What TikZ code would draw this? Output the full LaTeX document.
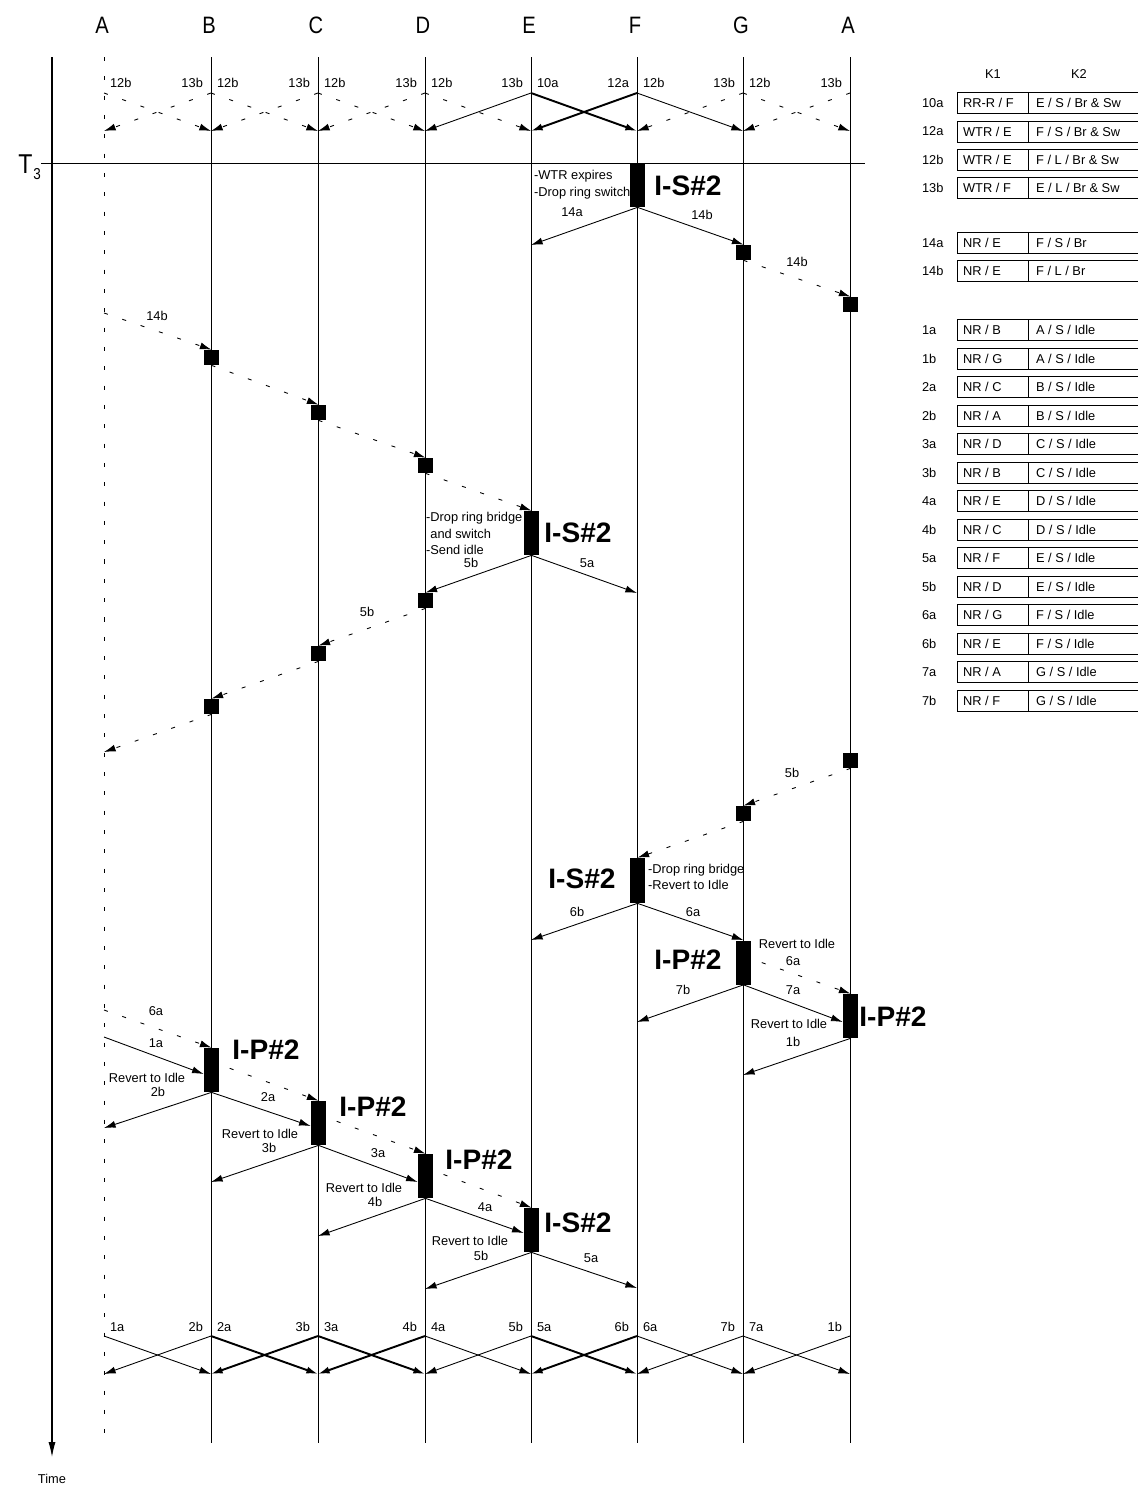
\documentclass[tikz,border=0pt]{standalone}
\usepackage{fontspec}
\setmainfont{Liberation Sans}
\newfontfamily\narrowfont[FakeStretch=0.85]{Liberation Sans}
\usetikzlibrary{arrows.meta,calc}

\begin{document}
\begin{tikzpicture}[x=0.02cm,y=-0.02cm,
  every node/.style={inner sep=1pt},
  lbl/.style={font=\fontsize{7.3}{9.4}\selectfont},
  remark/.style={lbl,align=left,anchor=west},
  lane/.style={line width=0.5pt},
  msg/.style={line width=0.5pt,-{Latex[length=6.6pt,width=4pt]}},
  bold msg/.style={msg,line width=1.1pt},
  fwd/.style={msg,dash pattern=on 2.3pt off 8.7pt},
  blk/.style={fill=black,minimum width=0.3cm,minimum height=0.88cm,inner sep=0pt},
  sq/.style={fill=black,minimum size=0.3cm,inner sep=0pt},
  stname/.style={font=\fontsize{16}{18}\selectfont\bfseries},
  letter/.style={font=\narrowfont\fontsize{13.5}{15}\selectfont}]
  \useasboundingbox (0,0) rectangle (1138,1488);

  % ring nodes (lanes)
  \foreach \n/\x/\t in {A/104/A,B/211/B,C/318/C,D/425/D,E/531/E,F/637/F,G/743/G,A2/850/A}{
    \node[letter] (l\n) at (\x-2,25) {\t};
    \coordinate (\n-top) at (\x,57);
    \coordinate (\n-bot) at (\x,1443);
    \coordinate (\n-u1) at (\x,93);    % top exchange
    \coordinate (\n-u2) at (\x,131);
    \coordinate (\n-v1) at (\x,1336);  % bottom exchange
    \coordinate (\n-v2) at (\x,1374);
  }
  \foreach \n in {B,C,D,E,F,G,A2}
    \draw[lane] (\n-top) -- (\n-bot);
  \draw[lane,dash pattern=on 2.3pt off 8.7pt] (A-top) -- (A-bot);

  % time axis and T3
  \coordinate (time-top) at (52,57);
  \coordinate (time-end) at (52,1457);
  \draw[line width=0.6pt,-{Latex[length=8.5pt,width=4pt]}] (time-top) -- (time-end);
  \node[lbl] (time) at (52,1479) {Time};
  \coordinate (t3-l) at (41,163);
  \coordinate (t3-r) at (865,163);
  \draw[lane] (t3-l) -- (t3-r);
  \node[letter,font=\narrowfont\fontsize{15.5}{17}\selectfont,anchor=base west,inner sep=0pt]
       (t3) at (18,173) {T\kern0.5pt\raisebox{-3.5pt}{\fontsize{9}{10}\selectfont 3}};

  % top exchange
  \foreach \p/\q/\sa/\sb/\la/\lb in {A/B/fwd/fwd/12b/13b, B/C/fwd/fwd/12b/13b,
      C/D/fwd/fwd/12b/13b, D/E/fwd/msg/12b/13b, E/F/bold msg/bold msg/10a/12a,
      F/G/msg/fwd/12b/13b, G/A2/fwd/fwd/12b/13b}{
    \draw[\sa] (\p-u1) -- (\q-u2);
    \draw[\sb] (\q-u1) -- (\p-u2);
    \node[lbl,anchor=west] (x\p) at ($(\p-u1)+(4,-10)$) {\la};
    \node[lbl,anchor=east] (y\q) at ($(\q-u1)+(-6,-10)$) {\lb};
  }

  % bottom exchange
  \foreach \p/\q/\sa/\sb/\la/\lb in {A/B/msg/msg/1a/2b, B/C/bold msg/bold msg/2a/3b,
      C/D/bold msg/bold msg/3a/4b, D/E/msg/msg/4a/5b, E/F/bold msg/bold msg/5a/6b,
      F/G/msg/msg/6a/7b, G/A2/msg/msg/7a/1b}{
    \draw[\sa] (\p-v1) -- (\q-v2);
    \draw[\sb] (\q-v1) -- (\p-v2);
    \node[lbl,anchor=west] (z\p) at ($(\p-v1)+(4,-9)$) {\la};
    \node[lbl,anchor=east] (w\q) at ($(\q-v1)+(-6,-9)$) {\lb};
  }

  % blocks and squares
  \node[blk] (sF1) at (637.5,185) {};
  \node[blk] (sE1) at (531.5,533) {};
  \node[blk,minimum height=0.9cm] (sF2) at (637.5,880.5) {};
  \node[blk] (pG) at (743.5,962.5) {};
  \node[blk] (pA2) at (850.5,1016) {};
  \node[blk] (pB) at (211.5,1070) {};
  \node[blk] (pC) at (318.5,1123) {};
  \node[blk] (pD) at (425.5,1176) {};
  \node[blk] (sE2) at (531.5,1230) {};
  \node[sq] (qG1) at (743.5,252.5) {};
  \node[sq] (qA1) at (850.5,304.5) {};
  \node[sq] (qB1) at (211.5,357.5) {};
  \node[sq] (qC1) at (318.5,412.5) {};
  \node[sq] (qD1) at (425.5,465.5) {};
  \node[sq] (qD2) at (425.5,600.5) {};
  \node[sq] (qC2) at (318.5,653.5) {};
  \node[sq] (qB2) at (211.5,706.5) {};
  \node[sq] (qA3) at (850.5,760.5) {};
  \node[sq] (qG2) at (743.5,813.5) {};

  % free ends on the lanes
  \coordinate (e14) at (531,245);
  \coordinate (a14) at (104,313);
  \coordinate (f5) at (637,593);
  \coordinate (a5) at (104,752);
  \coordinate (e6) at (531,940);
  \coordinate (f7) at (637,1022);
  \coordinate (g1) at (743,1075);
  \coordinate (a6) at (104,1010);
  \coordinate (a1) at (104,1037);
  \coordinate (a2) at (104,1128);
  \coordinate (b3) at (211,1182);
  \coordinate (c4) at (318,1236);
  \coordinate (d5) at (425,1289);
  \coordinate (f6) at (637,1288);

  % messages after T3
  \draw[msg] (sF1.south) -- (e14);
  \draw[msg] (sF1.south) -- (qG1.north);
  \draw[fwd] (qG1.south) -- (qA1.north);
  \draw[fwd] (a14) -- (qB1.north);
  \draw[fwd] (qB1.south) -- (qC1.north);
  \draw[fwd] (qC1.south) -- (qD1.north);
  \draw[fwd] (qD1.south) -- (sE1.north);
  \draw[msg] (sE1.south) -- (qD2.north);
  \draw[msg] (sE1.south) -- (f5);
  \draw[fwd] (qD2.south) -- (qC2.north);
  \draw[fwd] (qC2.south) -- (qB2.north);
  \draw[fwd] (qB2.south) -- (a5);
  \draw[fwd] (qA3.south) -- (qG2.north);
  \draw[fwd] (qG2.south) -- (sF2.north);
  \draw[msg] (sF2.south) -- (e6);
  \draw[msg] (sF2.south) -- (pG.north);
  \draw[fwd] ($(pG.north)+(0,16)$) -- (pA2.north);
  \draw[msg] (pG.south) -- (f7);
  \draw[msg] (pG.south) -- ($(pA2.west)+(0,6)$);
  \draw[msg] (pA2.south) -- (g1);
  \draw[fwd] (a6) -- (pB.north);
  \draw[msg] (a1) -- ($(pB.west)+(0,4)$);
  \draw[fwd] ($(pB.north)+(0,14)$) -- (pC.north);
  \draw[msg] (pB.south) -- (a2);
  \draw[msg] (pB.south) -- ($(pC.west)+(0,3)$);
  \draw[fwd] ($(pC.north)+(0,14)$) -- (pD.north);
  \draw[msg] (pC.south) -- (b3);
  \draw[msg] (pC.south) -- ($(pD.west)+(0,6)$);
  \draw[fwd] ($(pD.north)+(0,14)$) -- (sE2.north);
  \draw[msg] (pD.south) -- (c4);
  \draw[msg] (pD.south) -- ($(sE2.west)+(0,3)$);
  \draw[msg] (sE2.south) -- (d5);
  \draw[msg] (sE2.south) -- (f6);

  % state names
  \foreach \x/\y/\t [count=\i] in {688/186/I-S, 578/533/I-S, 582/879/I-S,
      688/960/I-P, 893/1017/I-P, 266/1050/I-P, 373/1107/I-P, 479/1160/I-P,
      578/1223/I-S}
    \node[stname] (st\i) at (\x,\y) {\t\#2};

  % message labels
  \foreach \x/\y/\t [count=\i] in {572/212/14a, 702/215/14b, 797/262/14b,
      157/316/14b, 471/563/5b, 587/563/5a, 367/612/5b, 792/773/5b,
      577/912/6b, 693/912/6a, 797/944/Revert to Idle, 793/961/6a,
      683/990/7b, 793/990/7a, 789/1024/Revert to Idle, 793/1042/1b,
      156/1011/6a, 156/1043/1a, 147/1078/Revert to Idle, 158/1092/2b,
      268/1097/2a, 260/1134/Revert to Idle, 269/1148/3b, 378/1153/3a,
      364/1188/Revert to Idle, 375/1202/4b, 485/1207/4a,
      470/1241/Revert to Idle, 481/1256/5b, 591/1258/5a}
    \node[lbl] (m\i) at (\x,\y) {\t};

  % remarks beside the blocks
  \node[remark] (r1) at (532,184.5) {-WTR expires\\-Drop ring switch};
  \node[remark] (r2) at (424,533.5) {-Drop ring bridge\\\phantom{-}and switch\\-Send idle};
  \node[remark] (r3) at (646,877) {-Drop ring bridge\\-Revert to Idle};

  % K1/K2 table
  \node[lbl] (k1) at (993,74) {K1};
  \node[lbl] (k2) at (1079,74) {K2};
  \foreach \y/\id/\ka/\kb in {103/10a/{RR-R / F}/{E / S / Br \& Sw},
      131.5/12a/{WTR / E}/{F / S / Br \& Sw}, 160/12b/{WTR / E}/{F / L / Br \& Sw},
      188/13b/{WTR / F}/{E / L / Br \& Sw}, 243/14a/{NR / E}/{F / S / Br},
      271/14b/{NR / E}/{F / L / Br}, 330/1a/{NR / B}/{A / S / Idle},
      358.5/1b/{NR / G}/{A / S / Idle}, 387/2a/{NR / C}/{B / S / Idle},
      415.5/2b/{NR / A}/{B / S / Idle}, 444/3a/{NR / D}/{C / S / Idle},
      472.5/3b/{NR / B}/{C / S / Idle}, 501/4a/{NR / E}/{D / S / Idle},
      529.5/4b/{NR / C}/{D / S / Idle}, 558/5a/{NR / F}/{E / S / Idle},
      586.5/5b/{NR / D}/{E / S / Idle}, 615/6a/{NR / G}/{F / S / Idle},
      643.5/6b/{NR / E}/{F / S / Idle}, 672/7a/{NR / A}/{G / S / Idle},
      700.5/7b/{NR / F}/{G / S / Idle}}{
    \draw[lane] (957,\y-10.5) rectangle (1142,\y+10.5);
    \draw[lane] (1028,\y-10.5) -- (1028,\y+10.5);
    \node[lbl,anchor=west] (id\id) at (920,\y) {\id};
    \node[lbl,anchor=west] (ka\id) at (961,\y) {\ka};
    \node[lbl,anchor=west] (kb\id) at (1034,\y) {\kb};
  }
\end{tikzpicture}
\end{document}
